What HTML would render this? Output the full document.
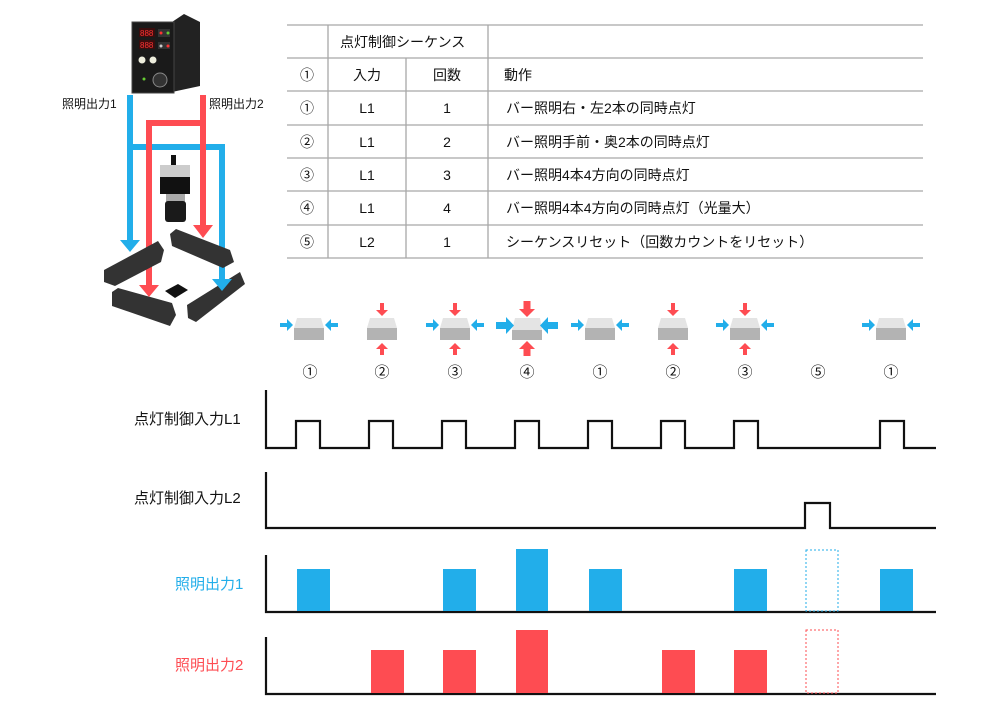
<!DOCTYPE html>
<html><head><meta charset="utf-8"><style>
body{margin:0;background:#fff}
svg{display:block}
text{font-family:"Liberation Sans","Noto Sans CJK JP",sans-serif;fill:#111}
</style></head><body>
<svg width="1000" height="709" viewBox="0 0 1000 709" xmlns="http://www.w3.org/2000/svg">
<defs>
<g id="ic"><polygon points="-12,318 12,318 15,328 -15,328" fill="#e4e4e4"/><rect x="-15" y="328" width="30" height="12" fill="#b3b3b3"/></g>
<g id="sb"><rect x="-29" y="323" width="8" height="4" fill="#22aeea"/><polygon points="-22,319 -16,325 -22,331" fill="#22aeea"/><rect x="21" y="323" width="8" height="4" fill="#22aeea"/><polygon points="22,319 16,325 22,331" fill="#22aeea"/></g>
<g id="sr"><rect x="-2" y="303" width="4" height="8" fill="#fe4c52"/><polygon points="-6,310 6,310 0,316" fill="#fe4c52"/><rect x="-2" y="348" width="4" height="7" fill="#fe4c52"/><polygon points="-6,349 6,349 0,343" fill="#fe4c52"/></g>
<g id="bb"><rect x="-31" y="322" width="11" height="7" fill="#22aeea"/><polygon points="-21,317 -13,325.5 -21,334" fill="#22aeea"/><rect x="20" y="322" width="11" height="7" fill="#22aeea"/><polygon points="21,317 13,325.5 21,334" fill="#22aeea"/></g>
<g id="br"><rect x="-3.5" y="301" width="7" height="9" fill="#fe4c52"/><polygon points="-8,309 8,309 0,317" fill="#fe4c52"/><rect x="-3.5" y="348" width="7" height="8" fill="#fe4c52"/><polygon points="-8,349 8,349 0,341" fill="#fe4c52"/></g>
</defs>

<!-- controller -->
<polygon points="172,22 184,14 200,22 200,86 172,92" fill="#222"/>
<rect x="132" y="22" width="42" height="71" fill="#1a1a1a" stroke="#444"/>
<rect x="139" y="28" width="16" height="9" fill="#3a0d0d"/><rect x="139" y="40" width="16" height="9" fill="#3a0d0d"/>
<text x="140" y="36" font-size="8" style="fill:#f33">888</text><text x="140" y="48" font-size="8" style="fill:#f33">888</text>
<rect x="158" y="29" width="12" height="8" fill="#333"/><rect x="158" y="42" width="12" height="7" fill="#333"/>
<circle cx="161" cy="33" r="1.5" fill="#f33"/><circle cx="168" cy="33" r="1.5" fill="#6c3"/><circle cx="161" cy="46" r="1.5" fill="#ccc"/><circle cx="168" cy="46" r="1.5" fill="#f33"/>
<circle cx="142" cy="60" r="3.5" fill="#eed"/><circle cx="153" cy="60" r="3.5" fill="#eed"/>
<circle cx="160" cy="80" r="7" fill="#333" stroke="#888"/><circle cx="144" cy="79" r="1.5" fill="#6c3"/>

<!-- wiring -->
<g fill="none" stroke-width="6">
<polyline points="130,95 130,243" stroke="#22aeea"/>
<polyline points="130,147 222,147 222,282" stroke="#22aeea"/>
<polyline points="203,95 203,228" stroke="#fe4c52"/>
<polyline points="203,123 149,123 149,288" stroke="#fe4c52"/>
</g>
<!-- camera -->
<rect x="171" y="155" width="5" height="10" fill="#111"/>
<polygon points="160,165 190,165 190,180 160,180" fill="#ccc"/>
<rect x="160" y="177" width="30" height="17" fill="#111"/>
<rect x="166" y="194" width="19" height="8" fill="#aaa"/>
<rect x="165" y="201" width="21" height="21" rx="3" fill="#1a1a1a"/>
<!-- bars -->
<polygon points="104,270 158,241 164,250 161,262 115,286 104,282" fill="#333"/>
<polygon points="170,234 176,229 230,250 234,262 223,268 172,246" fill="#333"/>
<polygon points="112,292 118,288 172,303 176,315 170,326 112,306" fill="#333"/>
<polygon points="187,305 240,272 245,284 196,322 188,318" fill="#333"/>
<polygon points="165,291 178,284 188,290 175,298" fill="#111"/>
<!-- arrowheads -->
<polygon points="120,240 140,240 130,252" fill="#22aeea"/>
<polygon points="212,279 232,279 222,291" fill="#22aeea"/>
<polygon points="193,225 213,225 203,238" fill="#fe4c52"/>
<polygon points="139,285 159,285 149,297" fill="#fe4c52"/>
<text x="62" y="108" font-size="12">照明出力1</text>
<text x="209" y="108" font-size="12">照明出力2</text>

<!-- table -->
<g stroke="#a8a8a8" stroke-width="1.3">
<line x1="287" y1="25" x2="923" y2="25"/><line x1="287" y1="58" x2="923" y2="58"/>
<line x1="287" y1="91" x2="923" y2="91"/><line x1="287" y1="125" x2="923" y2="125"/>
<line x1="287" y1="158" x2="923" y2="158"/><line x1="287" y1="191" x2="923" y2="191"/>
<line x1="287" y1="225" x2="923" y2="225"/><line x1="287" y1="258" x2="923" y2="258"/>
<line x1="328" y1="25" x2="328" y2="258"/><line x1="406" y1="58" x2="406" y2="258"/><line x1="488" y1="25" x2="488" y2="258"/>
</g>
<g font-size="14">
<text x="340" y="47">点灯制御シーケンス</text>
<text x="307" y="80" text-anchor="middle">①</text><text x="367" y="80" text-anchor="middle">入力</text><text x="447" y="80" text-anchor="middle">回数</text><text x="504" y="80">動作</text>
<text x="307" y="113" text-anchor="middle">①</text><text x="367" y="113" text-anchor="middle">L1</text><text x="447" y="113" text-anchor="middle">1</text><text x="506" y="113">バー照明右・左2本の同時点灯</text>
<text x="307" y="147" text-anchor="middle">②</text><text x="367" y="147" text-anchor="middle">L1</text><text x="447" y="147" text-anchor="middle">2</text><text x="506" y="147">バー照明手前・奥2本の同時点灯</text>
<text x="307" y="180" text-anchor="middle">③</text><text x="367" y="180" text-anchor="middle">L1</text><text x="447" y="180" text-anchor="middle">3</text><text x="506" y="180">バー照明4本4方向の同時点灯</text>
<text x="307" y="213" text-anchor="middle">④</text><text x="367" y="213" text-anchor="middle">L1</text><text x="447" y="213" text-anchor="middle">4</text><text x="506" y="213">バー照明4本4方向の同時点灯（光量大）</text>
<text x="307" y="247" text-anchor="middle">⑤</text><text x="367" y="247" text-anchor="middle">L2</text><text x="447" y="247" text-anchor="middle">1</text><text x="506" y="247">シーケンスリセット（回数カウントをリセット）</text>
</g>

<!-- icons -->
<g transform="translate(309,0)"><use href="#ic"/><use href="#sb"/></g>
<g transform="translate(382,0)"><use href="#ic"/><use href="#sr"/></g>
<g transform="translate(455,0)"><use href="#ic"/><use href="#sb"/><use href="#sr"/></g>
<g transform="translate(527,0)"><polygon points="-12,318 13,318 15,330 -15,330" fill="#e4e4e4"/><rect x="-15" y="330" width="30" height="10" fill="#b3b3b3"/><use href="#bb"/><use href="#br"/></g>
<g transform="translate(600,0)"><use href="#ic"/><use href="#sb"/></g>
<g transform="translate(673,0)"><use href="#ic"/><use href="#sr"/></g>
<g transform="translate(745,0)"><use href="#ic"/><use href="#sb"/><use href="#sr"/></g>
<g transform="translate(891,0)"><use href="#ic"/><use href="#sb"/></g>
<g font-size="15" text-anchor="middle">
<text x="310" y="377">①</text><text x="382" y="377">②</text><text x="455" y="377">③</text><text x="527" y="377">④</text><text x="600" y="377">①</text><text x="673" y="377">②</text><text x="745" y="377">③</text><text x="818" y="377">⑤</text><text x="891" y="377">①</text>
</g>

<!-- timing -->
<g fill="none" stroke="#111" stroke-width="2.2">
<polyline points="266,390 266,448 296,448 296,421 320,421 320,448 369,448 369,421 393,421 393,448 442,448 442,421 466,421 466,448 515,448 515,421 539,421 539,448 588,448 588,421 612,421 612,448 661,448 661,421 685,421 685,448 734,448 734,421 758,421 758,448 880,448 880,421 904,421 904,448 936,448"/>
<polyline points="266,472 266,528 805,528 805,503 830,503 830,528 936,528"/>
<polyline points="266,555 266,612 936,612"/>
<polyline points="266,637 266,694 936,694"/>
</g>
<g font-size="15">
<text x="134" y="424">点灯制御入力L1</text>
<text x="134" y="503">点灯制御入力L2</text>
<text x="175" y="589" style="fill:#22aeea">照明出力1</text>
<text x="175" y="670" style="fill:#fe4c52">照明出力2</text>
</g>
<g fill="#22aeea">
<rect x="297" y="569" width="33" height="42"/><rect x="443" y="569" width="33" height="42"/><rect x="516" y="549" width="32" height="62"/><rect x="589" y="569" width="33" height="42"/><rect x="734" y="569" width="33" height="42"/><rect x="880" y="569" width="33" height="42"/>
</g>
<rect x="806" y="550" width="32" height="61" fill="none" stroke="#22aeea" stroke-width="1" stroke-dasharray="2,2"/>
<g fill="#fe4c52">
<rect x="371" y="650" width="33" height="43"/><rect x="443" y="650" width="33" height="43"/><rect x="516" y="630" width="32" height="63"/><rect x="662" y="650" width="33" height="43"/><rect x="734" y="650" width="33" height="43"/>
</g>
<rect x="806" y="630" width="32" height="63" fill="none" stroke="#fe4c52" stroke-width="1" stroke-dasharray="2,2"/>
</svg>
</body></html>
